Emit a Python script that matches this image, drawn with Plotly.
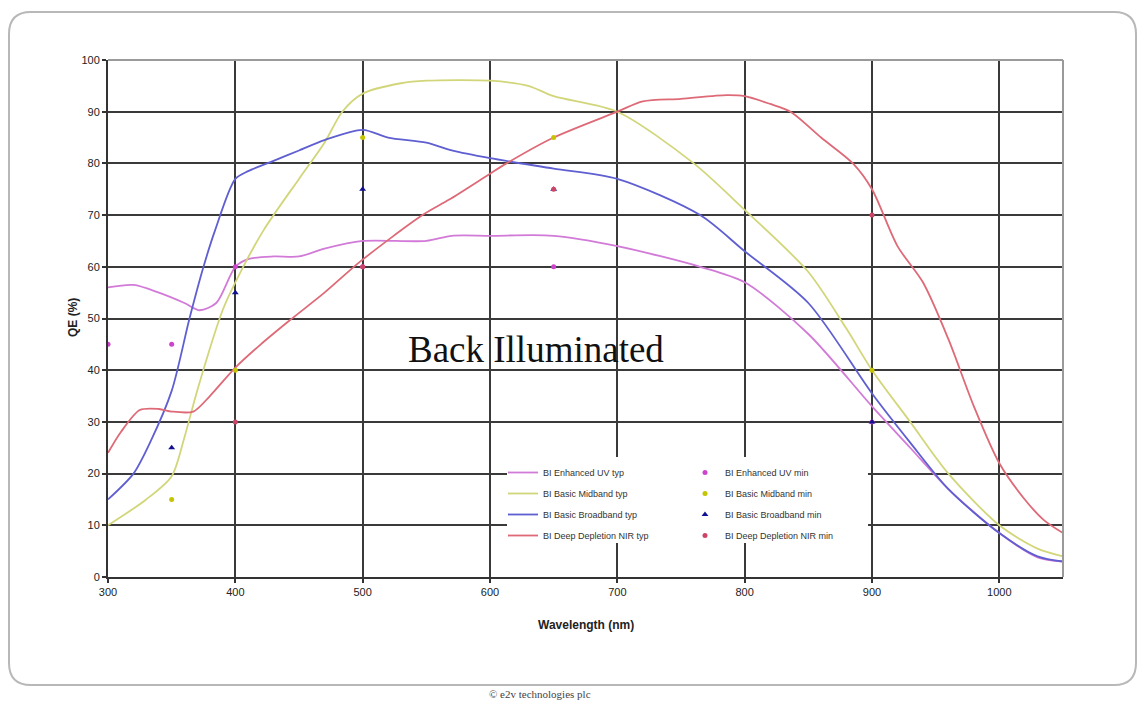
import plotly.graph_objects as go

# ---------------- data ----------------
uv_x = [300, 320, 340, 360, 372, 385, 400, 410, 430, 450, 470, 500, 550, 570, 600, 650, 700, 765, 800, 850, 900, 930, 960, 1000, 1030, 1050]
uv_y = [56, 56.5, 55, 53, 51.6, 53, 60, 61.5, 62, 62, 63.5, 65, 65, 66, 66, 66, 64, 60, 57, 47, 33, 25, 17, 8.5, 3.8, 3]

mid_x = [300, 330, 350, 360, 370, 390, 400, 422, 450, 470, 484, 500, 530, 550, 600, 630, 650, 700, 760, 800, 850, 880, 900, 930, 960, 1000, 1030, 1050]
mid_y = [10, 15, 19.5, 27, 36, 51.6, 57, 67, 77, 84, 90, 93.5, 95.5, 96, 96, 95, 93, 90, 80, 71, 59, 48, 40, 30, 20, 10, 5.5, 4]

bb_x = [300, 320, 333, 350, 364, 375, 384, 400, 410, 430, 450, 470, 500, 520, 550, 570, 600, 650, 700, 765, 800, 850, 900, 930, 960, 1000, 1030, 1050]
bb_y = [15, 20, 26, 36, 50, 60, 67, 77, 78.5, 80.5, 82.5, 84.5, 86.5, 85, 84, 82.5, 81, 79, 77, 70, 63, 53, 35.5, 26, 17, 8.5, 4, 3]

nir_x = [300, 310, 325, 340, 350, 367, 380, 400, 420, 443, 470, 498, 547, 568, 600, 613, 650, 700, 720, 750, 786, 800, 820, 836, 860, 885, 900, 920, 940, 960, 980, 1000, 1020, 1035, 1050]
nir_y = [24, 28, 32.3, 32.5, 32, 32, 35, 40.5, 45, 49.7, 55, 61, 70, 73, 78, 80, 85, 90, 92, 92.5, 93.2, 93, 91.5, 90, 85, 80, 75, 64, 57, 46, 33, 22, 15, 11, 8.5]

uv_min_x = [300, 350, 400, 500, 650, 900]
uv_min_y = [45, 45, 60, 60, 60, 30]
mid_min_x = [350, 400, 500, 650, 900]
mid_min_y = [15, 40, 85, 85, 40]
bb_min_x = [350, 400, 500, 650, 900]
bb_min_y = [25, 55, 75, 75, 30]
nir_min_x = [400, 500, 650, 900]
nir_min_y = [30, 60, 75, 70]

x_ticks = [300, 400, 500, 600, 700, 800, 900, 1000]
y_ticks = list(range(0, 101, 10))

# ---------------- figure ----------------
FONT = "Liberation Sans, Arial, sans-serif"
fig = go.Figure()

def typ(x, y, name, color):
    fig.add_trace(go.Scatter(x=x, y=y, mode="lines", name=name, legendgroup=name,
                             line=dict(color=color, width=1.8, shape="spline", smoothing=0.8),
                             legend="legend"))

def mn(x, y, name, color, symbol, size):
    fig.add_trace(go.Scatter(x=x, y=y, mode="markers", name=name, legendgroup=name,
                             marker=dict(color=color, symbol=symbol, size=size),
                             legend="legend2"))

typ(uv_x, uv_y, "BI Enhanced UV typ", "#d27ad8")
typ(mid_x, mid_y, "BI Basic Midband typ", "#d2d67a")
typ(bb_x, bb_y, "BI Basic Broadband typ", "#5f5fd2")
typ(nir_x, nir_y, "BI Deep Depletion NIR typ", "#de6a78")

mn(uv_min_x, uv_min_y, "BI Enhanced UV min", "#cc44cc", "circle", 5)
mn(mid_min_x, mid_min_y, "BI Basic Midband min", "#c4c400", "circle", 5)
mn(bb_min_x, bb_min_y, "BI Basic Broadband min", "#101090", "triangle-up", 6)
mn(nir_min_x, nir_min_y, "BI Deep Depletion NIR min", "#cc4466", "circle", 5)

L, R, T, B = 108, 78, 60, 125
W, H = 1141, 702
pw, ph = W - L - R, H - T - B

def px_to_paper(px, py):
    return (px - L) / pw, (H - B - py) / ph

# rounded outer frame
x0, y0, x1, y1, r = 9, 12, 1136, 685, 22
def P(px, py):
    a, b = px_to_paper(px, py)
    return f"{a:.5f},{b:.5f}"
path = (f"M {P(x0 + r, y0)} L {P(x1 - r, y0)} Q {P(x1, y0)} {P(x1, y0 + r)} "
        f"L {P(x1, y1 - r)} Q {P(x1, y1)} {P(x1 - r, y1)} "
        f"L {P(x0 + r, y1)} Q {P(x0, y1)} {P(x0, y1 - r)} "
        f"L {P(x0, y0 + r)} Q {P(x0, y0)} {P(x0 + r, y0)} Z")

lx0, ly0 = px_to_paper(507, 457)
lx1, ly1 = px_to_paper(868, 543)

leg_font = dict(family=FONT, size=9, color="#333")
fig.update_layout(
    width=W, height=H,
    margin=dict(l=L, r=R, t=T, b=B),
    paper_bgcolor="white", plot_bgcolor="white",
    font=dict(family=FONT, size=11, color="#222"),
    xaxis=dict(range=[300, 1050], tickvals=x_ticks, showgrid=True, gridcolor="#3a3a3a", gridwidth=2,
               zeroline=False, showline=True, linecolor="#333", linewidth=2,
               ticks="outside", ticklen=4, tickcolor="#333", tickwidth=1.5,
               tickfont=dict(family=FONT, size=11, color="#222")),
    yaxis=dict(range=[0, 100], tickvals=y_ticks, showgrid=True, gridcolor="#3a3a3a", gridwidth=2,
               zeroline=False, showline=True, linecolor="#333", linewidth=2,
               ticks="outside", ticklen=4, tickcolor="#333", tickwidth=1.5,
               tickfont=dict(family=FONT, size=11, color="#222")),
    legend=dict(x=(503 - L) / pw, y=(H - B - 458) / ph, xanchor="left", yanchor="top",
                bgcolor="rgba(255,255,255,0)", font=leg_font,
                itemwidth=30, tracegroupgap=2),
    legend2=dict(x=(685 - L) / pw, y=(H - B - 458) / ph, xanchor="left", yanchor="top",
                 bgcolor="rgba(255,255,255,0)", font=leg_font,
                 itemwidth=30, tracegroupgap=2),
    shapes=[
        dict(type="path", xref="paper", yref="paper", path=path,
             line=dict(color="#b8b8b8", width=2), fillcolor="rgba(0,0,0,0)", layer="below"),
        dict(type="rect", xref="paper", yref="paper", x0=lx0, y0=ly1, x1=lx1, y1=ly0,
             fillcolor="white", line=dict(width=0), layer="above"),
        dict(type="line", xref="paper", yref="paper", x0=1, x1=1, y0=0, y1=1,
             line=dict(color="#9a9a9a", width=2), layer="above"),
        dict(type="line", xref="paper", yref="paper", x0=0, x1=1, y0=1, y1=1,
             line=dict(color="#9a9a9a", width=2), layer="above"),
    ],
    annotations=[
        dict(x=636, y=44, xref="x", yref="y", text="Back Illuminated", showarrow=False,
             font=dict(family="Liberation Serif, Times New Roman, serif", size=37, color="#111")),
        dict(x=(73 - L) / pw, y=(H - B - 318) / ph, xref="paper", yref="paper",
             text="<b>QE (%)</b>", showarrow=False, textangle=-90,
             xanchor="center", yanchor="middle",
             font=dict(family=FONT, size=12, color="#222")),
        dict(x=0.5, y=(H - B - 625) / ph, xref="paper", yref="paper",
             text="<b>Wavelength (nm)</b>", showarrow=False,
             xanchor="center", yanchor="middle",
             font=dict(family=FONT, size=12, color="#222")),
        dict(x=(540 - L) / pw, y=(H - B - 694) / ph, xref="paper", yref="paper",
             text="© e2v technologies plc", showarrow=False, yanchor="middle",
             font=dict(family="Liberation Serif, serif", size=11, color="#444")),
    ],
)

fig.write_html("out.html")
